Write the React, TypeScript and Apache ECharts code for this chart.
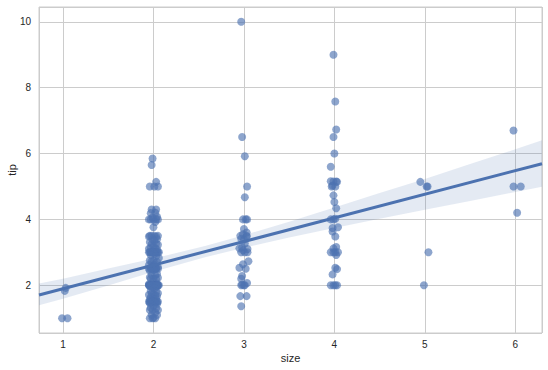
import React, { useEffect, useRef } from "react";
import * as echarts from "echarts";

// Jittered scatter points [size (jittered), tip]
const size1Points: number[][] = [
  [0.99, 1.0], [1.05, 1.0], [1.02, 1.83], [1.03, 1.92],
];

const size2Points: number[][] = [
  [1.99, 5.85], [1.98, 5.65], [1.96, 5.0], [2.01, 5.0], [2.05, 5.0], [2.03, 5.14],
  [1.98, 4.3], [2.03, 4.3], [2.02, 4.2], [1.97, 4.19], [2.04, 4.08], [1.99, 4.06],
  [1.95, 4.0], [2.0, 4.0], [2.03, 4.0], [2.05, 4.0], [1.97, 4.0], [2.02, 3.92], [2.0, 3.76],
  [1.96, 3.5], [2.05, 3.5], [2.01, 3.5], [1.98, 3.5], [2.03, 3.48], [1.95, 3.48],
  [2.04, 3.4], [1.99, 3.39], [2.01, 3.35], [1.96, 3.31], [2.03, 3.27], [1.98, 3.25],
  [2.05, 3.23], [2.0, 3.18], [1.97, 3.15], [2.02, 3.12], [1.95, 3.11], [2.04, 3.09], [1.99, 3.02],
  [1.95, 3.0], [1.97, 3.0], [1.99, 3.0], [2.01, 3.0], [2.03, 3.0], [2.05, 3.0],
  [1.96, 3.0], [1.98, 3.0], [2.0, 3.0], [2.02, 3.0], [2.04, 3.0], [2.06, 3.0],
  [2.01, 2.95], [1.97, 2.92], [2.03, 2.88], [2.06, 2.83], [1.96, 2.75], [2.0, 2.74],
  [1.98, 2.72], [2.04, 2.71], [2.02, 2.64], [1.95, 2.61], [2.01, 2.6], [1.99, 2.56],
  [2.05, 2.55], [1.97, 2.54], [2.03, 2.52],
  [1.95, 2.5], [1.97, 2.5], [1.99, 2.5], [2.01, 2.5], [2.03, 2.5], [2.05, 2.5], [1.98, 2.5], [2.02, 2.5],
  [2.0, 2.47], [1.96, 2.45], [2.04, 2.34], [1.98, 2.31], [2.02, 2.3], [1.96, 2.24],
  [2.05, 2.23], [2.0, 2.2], [1.97, 2.2], [2.03, 2.18], [1.99, 2.09], [2.04, 2.05],
  [1.95, 2.03], [2.01, 2.02], [1.98, 2.01],
  [1.95, 2.0], [1.96, 2.0], [1.97, 2.0], [1.98, 2.0], [1.99, 2.0], [2.0, 2.0],
  [2.01, 2.0], [2.02, 2.0], [2.03, 2.0], [2.04, 2.0], [2.05, 2.0], [2.06, 2.0],
  [1.95, 2.0], [1.97, 2.0], [1.99, 2.0], [2.01, 2.0], [2.03, 2.0], [2.05, 2.0],
  [1.96, 2.0], [1.98, 2.0], [2.0, 2.0], [2.02, 2.0], [2.04, 2.0], [1.99, 2.0],
  [2.02, 1.98], [1.96, 1.97], [2.04, 1.96], [1.99, 1.92], [2.01, 1.9], [1.97, 1.83],
  [2.03, 1.8], [2.05, 1.76], [1.98, 1.75], [2.0, 1.73], [1.95, 1.71], [2.02, 1.68],
  [2.04, 1.67], [1.97, 1.64], [1.99, 1.61], [2.03, 1.58], [1.96, 1.57], [2.01, 1.56],
  [1.95, 1.5], [1.97, 1.5], [1.99, 1.5], [2.01, 1.5], [2.03, 1.5], [2.05, 1.5],
  [1.96, 1.5], [2.0, 1.5], [2.04, 1.5],
  [1.98, 1.48], [2.02, 1.47], [1.96, 1.45], [2.04, 1.44], [2.0, 1.36], [1.97, 1.32],
  [2.03, 1.3], [1.99, 1.25], [2.05, 1.25], [1.96, 1.25], [2.02, 1.17], [1.98, 1.1],
  [2.04, 1.1], [2.0, 1.01], [1.96, 1.0], [1.99, 1.0], [2.02, 1.0],
];

const size3Points: number[][] = [
  [2.97, 10.0], [2.98, 6.5], [3.01, 5.92], [3.035, 5.0], [3.01, 4.67], [2.99, 4.0],
  [3.02, 4.0], [3.035, 4.0], [3.0, 3.71], [2.96, 3.5], [3.03, 3.5], [3.0, 3.39],
  [3.03, 3.48], [2.97, 3.41], [3.01, 3.27], [2.95, 3.12], [2.97, 3.0], [3.04, 3.0],
  [3.01, 3.0], [2.99, 3.06], [3.05, 2.73], [2.99, 2.64], [2.95, 2.53], [2.98, 2.28],
  [2.97, 2.2], [2.98, 2.02], [3.035, 2.07], [3.01, 2.0], [2.97, 2.0], [3.0, 2.0],
  [2.96, 1.67], [3.03, 1.67], [2.97, 1.36], [3.03, 3.6], [2.98, 3.15], [3.02, 2.5],
  [2.99, 3.55], [3.04, 3.1],
];

const size4Points: number[][] = [
  [3.99, 9.0], [4.01, 7.58], [4.02, 6.73], [3.99, 6.5], [4.0, 6.0], [3.96, 5.6],
  [3.96, 5.16], [3.98, 5.03], [3.99, 5.15], [4.02, 5.15], [4.03, 5.14], [4.01, 5.0],
  [3.99, 4.73], [4.0, 4.53], [4.02, 4.34], [3.96, 4.0], [3.99, 4.0], [4.01, 4.02],
  [4.04, 3.76], [3.98, 3.74], [3.98, 3.63], [4.01, 3.48],
  [3.96, 3.0], [3.99, 3.12], [4.01, 3.0], [4.02, 3.16], [4.04, 3.0], [4.02, 2.92],
  [4.01, 2.53], [4.03, 2.49], [3.98, 2.33], [3.96, 2.0], [3.99, 2.0], [4.03, 2.0],
  [3.99, 3.0], [3.97, 5.0], [4.01, 2.0],
];

const size5Points: number[][] = [
  [4.95, 5.14], [5.02, 5.0], [5.03, 5.0], [5.04, 3.0], [4.99, 2.0],
];

const size6Points: number[][] = [
  [5.98, 6.7], [5.98, 5.0], [6.06, 5.0], [6.02, 4.2],
];

// Regression line end points
const lineX = [0.735, 6.295];
const lineY = [1.705, 5.692];

// Confidence band
const bandX = [0.735, 1.0, 1.5, 2.0, 2.57, 3.0, 3.5, 4.0, 4.5, 5.0, 5.5, 6.0, 6.295];
const bandLower = [1.39, 1.59, 1.99, 2.41, 2.85, 3.14, 3.45, 3.74, 4.02, 4.29, 4.56, 4.83, 4.99];
const bandUpper = [2.05, 2.2, 2.51, 2.81, 3.19, 3.52, 3.93, 4.36, 4.8, 5.23, 5.68, 6.13, 6.4];

const X_MIN = 0.735;
const X_MAX = 6.295;
const Y_MIN = 0.55;
const Y_MAX = 10.45;

const allPoints = [
  ...size1Points, ...size2Points, ...size3Points,
  ...size4Points, ...size5Points, ...size6Points,
];

export default function App() {
  const ref = useRef<HTMLDivElement>(null);
  useEffect(() => {
    if (!ref.current) return;
    const chart = echarts.init(ref.current, null, { renderer: "svg" });
    const font = "'Liberation Sans', Arial, sans-serif";
    chart.setOption({
      animation: false,
      backgroundColor: "#ffffff",
      textStyle: { fontFamily: font },
      grid: {
        left: 39, right: 6, top: 7, bottom: 37,
        outerBoundsMode: "none",
        containLabel: false,
        show: true, borderColor: "#cccccc", borderWidth: 1,
      },
      xAxis: {
        type: "value",
        min: X_MIN,
        max: X_MAX,
        name: "size",
        nameLocation: "middle",
        nameGap: 19,
        nameMoveOverlap: false,
        nameTextStyle: { color: "#262626", fontSize: 11, fontFamily: font },
        axisLine: { show: false },
        axisTick: { show: false },
        splitLine: { show: true, lineStyle: { color: "#cccccc", width: 1 } },
        axisLabel: {
          color: "#262626", fontSize: 10, margin: 6, fontFamily: font,
          showMinLabel: false, showMaxLabel: false,
        },
      },
      yAxis: {
        type: "value",
        min: Y_MIN,
        max: Y_MAX,
        name: "tip",
        nameLocation: "middle",
        nameGap: 22,
        nameMoveOverlap: false,
        nameTextStyle: { color: "#262626", fontSize: 11, fontFamily: font },
        axisLine: { show: false },
        axisTick: { show: false },
        splitLine: { show: true, lineStyle: { color: "#cccccc", width: 1 } },
        axisLabel: {
          color: "#262626", fontSize: 10, margin: 8, fontFamily: font,
          showMinLabel: false, showMaxLabel: false,
        },
      },
      series: [
        {
          type: "custom",
          silent: true,
          z: 1,
          clip: true,
          data: bandX.map((x, i) => [x, bandLower[i], bandUpper[i]]),
          encode: { x: 0, y: [1, 2] },
          renderItem: (params: any, api: any) => {
            if (params.dataIndex !== 0) return null;
            const pts: number[][] = [];
            for (let i = 0; i < bandX.length; i++) pts.push(api.coord([bandX[i], bandUpper[i]]));
            for (let i = bandX.length - 1; i >= 0; i--) pts.push(api.coord([bandX[i], bandLower[i]]));
            return {
              type: "polygon",
              shape: { points: pts },
              style: { fill: "rgba(76,114,176,0.15)", stroke: "none" },
            };
          },
        },
        {
          type: "scatter",
          z: 2,
          symbol: "circle",
          symbolSize: 8,
          itemStyle: { color: "rgba(76,114,176,0.8)", borderWidth: 0 },
          data: allPoints,
        },
        {
          type: "line",
          z: 3,
          symbol: "none",
          lineStyle: { color: "#4c72b0", width: 3 },
          data: lineX.map((x, i) => [x, lineY[i]]),
        },
      ],
    });
    return () => chart.dispose();
  }, []);
  return (
    <div
      ref={ref}
      style={{ position: "fixed", left: 0, top: 0, width: 548, height: 370, background: "#fff" }}
    />
  );
}
